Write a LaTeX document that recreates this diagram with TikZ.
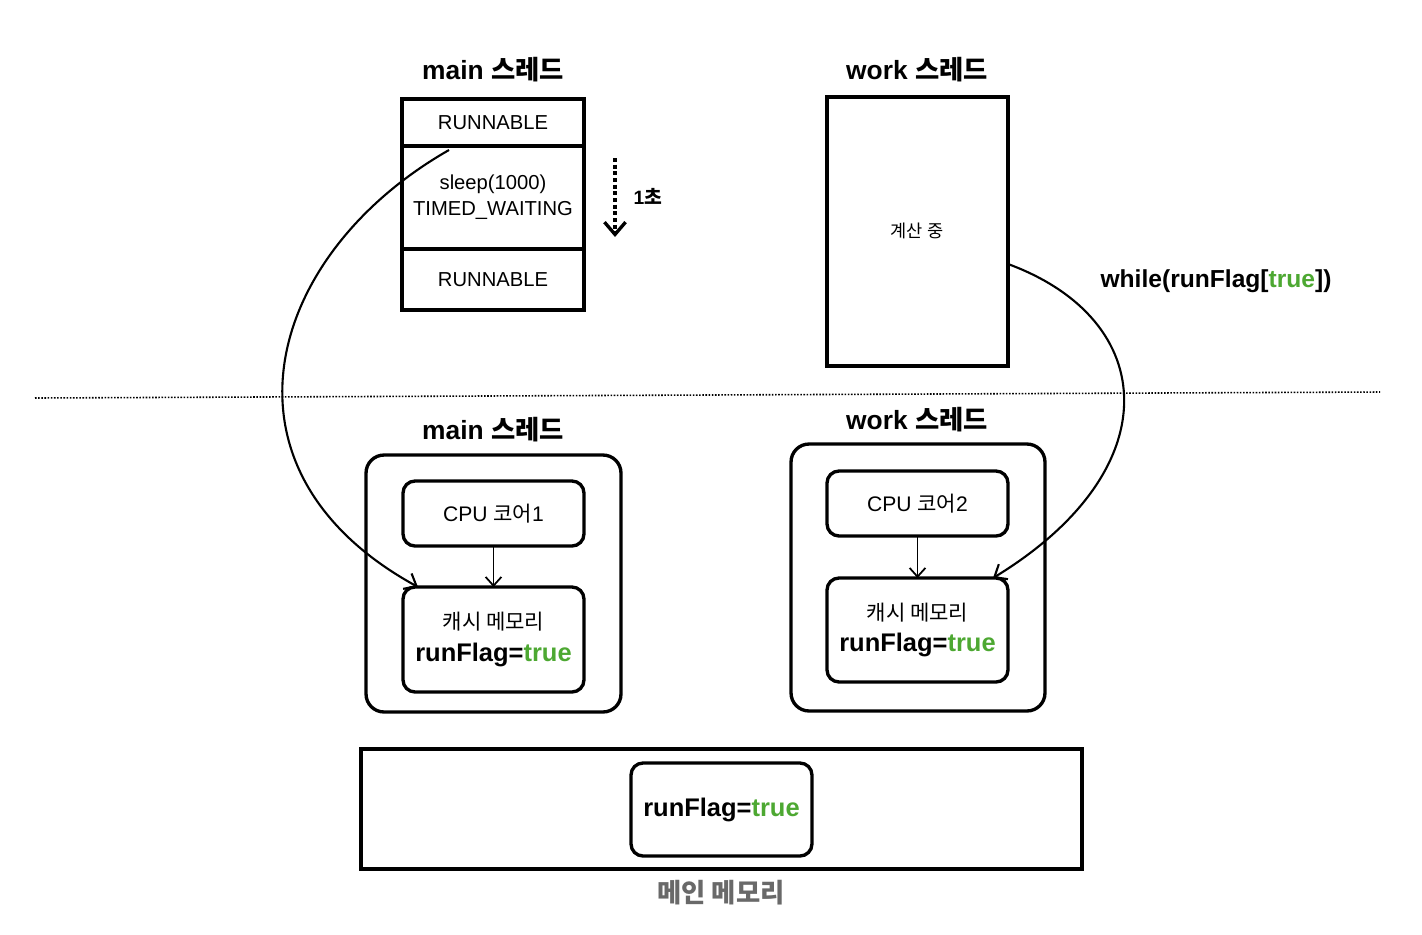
\documentclass[tikz,border=0pt]{standalone}
\usepackage{fontspec}
\setmainfont{Liberation Sans}
\newfontfamily\kr{Noto Sans CJK KR}
\usetikzlibrary{arrows.meta,calc}
\definecolor{tgreen}{RGB}{77,168,50}
\definecolor{mgray}{RGB}{105,105,105}
\newcommand{\fs}[1]{\fontsize{#1pt}{\dimexpr #1pt*12/10\relax}\selectfont}
\begin{document}
\begin{tikzpicture}[x=0.02cm,y=-0.02cm,
  sq/.style={draw,line width=1.9pt,inner sep=0pt,outer sep=0pt,align=center},
  rbox/.style={sq,rounded corners=0.24cm},
  obox/.style={sq,rounded corners=0.36cm},
  ttl/.style={font=\fs{15}\bfseries},
  conn/.style={line width=1.2pt,-{Straight Barb[length=6pt,width=10pt,line width=1.2pt]}},
  small/.style={line width=1pt,-{Straight Barb[length=5pt,width=9pt,line width=1pt]}}]
\useasboundingbox (0,0) rectangle (1422,934);

% ---- top: main thread states
\node[ttl] (tmain) at (493,70) {main {\kr 스레드}};
\node[sq,minimum width=3.64cm,minimum height=0.94cm,font=\fs{11.5}] (r1) at (493,122.5) {RUNNABLE};
\node[sq,minimum width=3.64cm,minimum height=2.06cm,font=\fs{11.5}] (sl) at (493,197.5) {sleep(1000)\\[1pt]TIMED\_WAITING};
\node[sq,minimum width=3.64cm,minimum height=1.22cm,font=\fs{11.5}] (r2) at (493,279.5) {RUNNABLE};
\coordinate (ds) at (615,158);
\coordinate (de) at (615,237);
\draw[line width=1.9pt,dash pattern=on 2.2pt off 1.6pt,-{Straight Barb[length=7pt,width=12pt,line width=1.9pt]}] (ds) -- (de);
\node[font=\fs{11}\bfseries] (sec) at (648,196) {1{\kr 초}};

% ---- top: work thread
\node[ttl] (twork) at (917,70) {work {\kr 스레드}};
\node[sq,minimum width=3.62cm,minimum height=5.38cm] (work) at (917.5,231.5) {};
\node[font=\fs{10}\kr] (calc) at (917,231) {계산 중};
\node[font=\fs{14}\bfseries] (wl) at (1216,281) {while(runFlag[\textcolor{tgreen}{true}])};

% ---- separator
\coordinate (sepL) at (35,398);
\coordinate (sepR) at (1380,392);
\draw[line width=0.9pt,dash pattern=on 0.9pt off 0.9pt] (sepL) -- (sepR);

% ---- bottom: main thread core
\node[ttl] (tmain2) at (493,430) {main {\kr 스레드}};
\node[obox,minimum width=5.1cm,minimum height=5.14cm] (om) at (493.5,583.5) {};
\node[rbox,minimum width=3.62cm,minimum height=1.3cm,font=\fs{12}] (cpu1) at (493.5,513.5) {CPU {\kr 코어}1};
\node[rbox,minimum width=3.62cm,minimum height=2.1cm] (cache1) at (493.5,639.5) {{\fs{12}\kr 캐시 메모리}\\[6pt]{\fs{14.5}\bfseries runFlag=\textcolor{tgreen}{true}}};
\draw[small] (cpu1) -- (cache1);

% ---- bottom: work thread core
\node[ttl] (twork2) at (917,420) {work {\kr 스레드}};
\node[obox,minimum width=5.08cm,minimum height=5.34cm] (ow) at (918,577.5) {};
\node[rbox,minimum width=3.62cm,minimum height=1.3cm,font=\fs{12}] (cpu2) at (917.5,503.5) {CPU {\kr 코어}2};
\node[rbox,minimum width=3.62cm,minimum height=2.08cm] (cache2) at (917.5,630) {{\fs{12}\kr 캐시 메모리}\\[6pt]{\fs{14.5}\bfseries runFlag=\textcolor{tgreen}{true}}};
\draw[small] (cpu2) -- (cache2);

% ---- main memory
\node[sq,minimum width=14.42cm,minimum height=2.4cm] (mem) at (721.5,809) {};
\node[rbox,minimum width=3.62cm,minimum height=1.86cm,font=\fs{14.5}\bfseries] (mv) at (721.5,809.5) {runFlag=\textcolor{tgreen}{true}};
\node[font=\fs{15}\bfseries\kr,text=mgray] (memlbl) at (721,893) {메인 메모리};

% ---- curved connectors
\coordinate (c1s) at (449,150);
\draw[conn] (c1s) .. controls (265,255) and (205,470) .. ([xshift=0.3cm]cache1.north west);
\draw[conn] ([yshift=-0.65cm]work.east) .. controls (1160,320) and (1170,470) .. ([xshift=-0.3cm]cache2.north east);
\end{tikzpicture}
\end{document}
